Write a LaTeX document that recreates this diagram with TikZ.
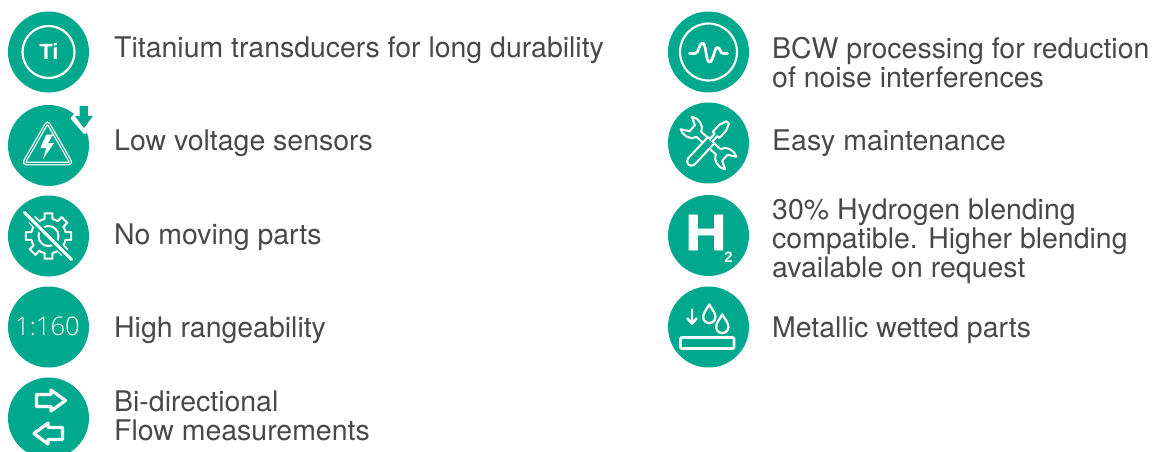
\documentclass[tikz,border=0pt]{standalone}
\usepackage{fontspec}
\setmainfont{TeX Gyre Heros}
\newfontfamily\lightf{Open Sans Light}
\newfontfamily\boldf{Liberation Sans Bold}
\newfontfamily\heavyf[FakeBold=1.6]{Liberation Sans Bold}
\definecolor{teal0}{HTML}{00A88D}
\definecolor{ink}{HTML}{484848}
\tikzset{
 disc/.style={circle,fill=teal0,draw=none,minimum size=81pt,inner sep=0pt},
 lab/.style={anchor=west,align=left,text=ink,inner sep=0pt,font=\fontsize{28.45}{29}\selectfont},
 ico/.style={draw=white,line width=2pt,line join=round,line cap=round},
}
\begin{document}
\begin{tikzpicture}[x=1pt,y=-1pt]
\useasboundingbox (0,0) rectangle (1156,451);
\begin{scope}
\clip (0,0) rectangle (1156,451);
\node[disc] (d1) at (48.5,52) {};
\node[disc] (d2) at (48.5,145.5) {};
\node[disc] (d3) at (48.5,236) {};
\node[disc] (d4) at (48.5,327) {};
\node[disc] (d5) at (48.5,418) {};
\node[disc] (d6) at (708.5,52) {};
\node[disc] (d7) at (708.5,143) {};
\node[disc] (d8) at (708.5,235.5) {};
\node[disc] (d9) at (708.5,327) {};
\end{scope}
% Ti
\draw[ico,line width=2.2pt] (48.5,52) circle (26);
\node[text=white,font=\boldf\fontsize{22}{22}\selectfont] (ti) at (49,51.5) {Ti};
% low voltage
\draw[draw=white,line width=3.6pt,rounded corners=3pt] (47.5,122) -- (71.5,163.5) -- (23.5,163.5) -- cycle;
\draw[draw=teal0,line width=1pt,rounded corners=3pt] (47.5,122) -- (71.5,163.5) -- (23.5,163.5) -- cycle;
\fill[white] (46.3,134.7) -- (53,134.7) -- (48,143) -- (54,143) -- (43,159) -- (46.3,148) -- (40.3,148) -- cycle;
\fill[white,rounded corners=1.5pt] (70,118) -- (84,104) -- (98,116) -- (85,135) -- cycle;
\fill[teal0] (79.5,106) -- (88,106) -- (88,116) -- (93,116) -- (84,128) -- (75,116) -- (79.5,116) -- cycle;
% gear
\begin{scope}[shift={(48.5,236)}]
\draw[draw=white,line width=2pt,line join=round]
 (-13:17.5) -- (-10:23) -- (10:23) -- (13:17.5)
 arc[start angle=13,end angle=32,radius=17.5] -- (35:23) -- (55:23) -- (58:17.5)
 arc[start angle=58,end angle=77,radius=17.5] -- (80:23) -- (100:23) -- (103:17.5)
 arc[start angle=103,end angle=122,radius=17.5] -- (125:23) -- (145:23) -- (148:17.5)
 arc[start angle=148,end angle=167,radius=17.5] -- (170:23) -- (190:23) -- (193:17.5)
 arc[start angle=193,end angle=212,radius=17.5] -- (215:23) -- (235:23) -- (238:17.5)
 arc[start angle=238,end angle=257,radius=17.5] -- (260:23) -- (280:23) -- (283:17.5)
 arc[start angle=283,end angle=302,radius=17.5] -- (305:23) -- (325:23) -- (328:17.5)
 arc[start angle=328,end angle=347,radius=17.5] -- cycle;
\draw[draw=white,line width=2pt] (0,0) circle (10);
\end{scope}
\draw[teal0,line width=7pt] (25,213) -- (71,259);
\draw[white,line width=3pt,line cap=round] (24.5,212.5) -- (71.5,259.5);
% 1:160
\node[text=white,font=\lightf\fontsize{25.6}{26}\selectfont] (r) at (47.5,326.5) {1:160};
% arrows
\draw[ico,line width=3.2pt] (36.5,394.5) -- (51,394.5) -- (51,390) -- (65.5,400.5) -- (51,411) -- (51,406.5) -- (36.5,406.5) -- cycle;
\draw[ico,line width=3.2pt] (62.5,427.5) -- (48,427.5) -- (48,423) -- (34,433.5) -- (48,444) -- (48,439.5) -- (62.5,439.5) -- cycle;
% BCW
\draw[ico,line width=2.1pt] (708.5,52) circle (28.5);
\draw[ico,line width=2.7pt] (689.5,53.5) -- (695,53.5) .. controls (699,53.5) and (699,43) .. (702.5,43) .. controls (706.5,43) and (705.5,62) .. (709.5,62) .. controls (713.5,62) and (714,47.5) .. (717.5,47.5) .. controls (720.5,47.5) and (720,53.5) .. (723,53.5) -- (727.5,53.5);
% tools
\begin{scope}[shift={(708.5,143)},rotate=-42]
\draw[ico] (-5,-3.5) -- (13,-3.5) .. controls (15,-10) and (24,-12) .. (30,-8.5) -- (22,-4) -- (22,4) -- (30,8.5) .. controls (24,12) and (15,10) .. (13,3.5) -- (-5,3.5);
\draw[ico] (-5,3.5) -- (-13,3.5) .. controls (-15,10) and (-24,12) .. (-30,8.5) -- (-22,4) -- (-22,-4) -- (-30,-8.5) .. controls (-24,-12) and (-15,-10) .. (-13,-3.5) -- (-5,-3.5);
\end{scope}
\begin{scope}[shift={(708.5,143)},rotate=47]
\draw[ico,fill=teal0] (4,-4.5) -- (-25,-4.5) arc[start angle=-90,end angle=-270,radius=4.5] -- (4,4.5) -- cycle;
\draw[ico,fill=teal0] (4,-1.8) -- (11,-1.8) -- (11,-4.5) -- (21,-4.5) -- (28,-1.8) -- (28,1.8) -- (21,4.5) -- (11,4.5) -- (11,1.8) -- (4,1.8);
\end{scope}
% H2
\node[text=white,font=\heavyf\fontsize{51}{51}\selectfont,xscale=1.12] (h) at (706,232.5) {H};
\node[text=white,font=\boldf\fontsize{15}{15}\selectfont] (two) at (728.5,257) {2};
% wetted
\draw[ico,line width=2.6pt,rounded corners=1pt] (680.5,337.5) rectangle (734,348.5);
\draw[ico,line width=2.6pt] (692,309.5) -- (692,323.5);
\draw[ico,line width=2.6pt] (687.5,318.5) -- (692,323.5) -- (696.5,318.5);
\draw[ico,line width=2.3pt] (709.3,304.5) .. controls (706.5,309.5) and (703.2,312.5) .. (703.2,317) arc[start angle=180,end angle=0,radius=6.1] .. controls (715.4,312.5) and (712.1,309.5) .. (709.3,304.5) -- cycle;
\draw[ico,line width=2.3pt] (722.3,314.5) .. controls (719.5,319.5) and (716.2,322.5) .. (716.2,327) arc[start angle=180,end angle=0,radius=6.1] .. controls (728.4,322.5) and (725.1,319.5) .. (722.3,314.5) -- cycle;
% labels
\node[lab] (t1) at (114,50) {Titanium transducers for long durability};
\node[lab] (t2) at (114,143) {Low voltage sensors};
\node[lab] (t3) at (114,237) {No moving parts};
\node[lab] (t4) at (114,330) {High rangeability};
\node[lab] (t5) at (114,416) {Bi-directional\\Flow measurements};
\node[lab] (t6) at (772,63) {BCW processing for reduction\\of noise interferences};
\node[lab] (t7) at (772,143) {Easy maintenance};
\node[lab] (t8) at (772,241.5) {30\% Hydrogen blending\\compatible. Higher blending\\available on request};
\node[lab] (t9) at (772,330) {Metallic wetted parts};
\end{tikzpicture}
\end{document}
